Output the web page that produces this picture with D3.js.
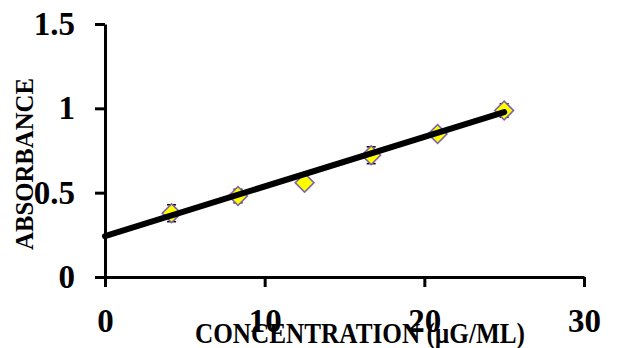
<!DOCTYPE html>
<html lang="en">
	<head>
		<meta charset="utf-8">
		<title>Absorbance vs concentration</title>
		<script type="text/javascript" src="https://cdn.jsdelivr.net/npm/d3@7"></script>
		<style type="text/css">
			body { margin: 0; background: #fff; }
			text { font-family: "Liberation Serif", "Times New Roman", serif; font-weight: bold; }
		</style>
	</head>
	<body>
		<script type="text/javascript">
			var w = 624;
			var h = 348;
			//data
			var concentration = [4.17, 8.33, 12.5, 16.67, 20.83, 25];
			var absorbance = [0.378, 0.48, 0.559, 0.722, 0.848, 0.987];
			var errors = [0.05, 0.04, 0.01, 0.05, 0.02, 0.04];
			var trendX = [0, 25];
			var trendY = [0.243, 0.978];
			var xTicks = [0, 10, 20, 30];
			var yTicks = [0, 0.5, 1, 1.5];

			var xScale = d3.scaleLinear().domain([0, 30]).range([105, 584]);
			var yScale = d3.scaleLinear().domain([0, 1.5]).range([277, 24]);

			var svg = d3.select("body")
						.append("svg")
						.attr("width", w)
						.attr("height", h);

			//axes
			svg.append("g")
				.attr("transform", "translate(0," + yScale(0) + ")")
				.call(d3.axisBottom(xScale).tickValues(xTicks)
					.tickFormat(d3.format("d"))
					.tickSize(10).tickSizeOuter(0).tickPadding(22));
			svg.append("g")
				.attr("transform", "translate(" + xScale(0) + ",0)")
				.call(d3.axisLeft(yScale).tickValues(yTicks)
					.tickFormat(function(d) { return d; })
					.tickSize(10).tickSizeOuter(0).tickPadding(20));
			svg.selectAll(".domain, .tick line")
				.attr("stroke", "black")
				.attr("stroke-width", 3);
			svg.selectAll(".tick text")
				.attr("font-size", "33px")
				.attr("font-family", "Liberation Serif")
				.attr("font-weight", "bold")
				.attr("fill", "black");

			//error bars
			var eb = svg.append("g").selectAll("g")
						.data(concentration)
						.enter()
						.append("g");
			eb.append("line")
				.attr("x1", function(d) { return xScale(d); })
				.attr("x2", function(d) { return xScale(d); })
				.attr("y1", function(d, i) { return yScale(absorbance[i] + errors[i]); })
				.attr("y2", function(d, i) { return yScale(absorbance[i] - errors[i]); })
				.attr("stroke", "black")
				.attr("stroke-width", 1.5);

			//points
			svg.append("g").selectAll("path")
				.data(concentration)
				.enter()
				.append("path")
				.attr("d", d3.symbol().type(d3.symbolSquare).size(175))
				.attr("transform", function(d, i) {
					return "translate(" + xScale(d) + "," + yScale(absorbance[i]) + ") rotate(45)";
				})
				.attr("fill", "#ffff00")
				.attr("stroke", "#7f63a8")
				.attr("stroke-width", 1.6);

			//caps
			[1, -1].forEach(function(s) {
				eb.append("line")
					.attr("x1", function(d) { return xScale(d) - 4.5; })
					.attr("x2", function(d) { return xScale(d) + 4.5; })
					.attr("y1", function(d, i) { return yScale(absorbance[i] + s * errors[i]); })
					.attr("y2", function(d, i) { return yScale(absorbance[i] + s * errors[i]); })
					.attr("stroke", "black")
					.attr("stroke-width", 1.5);
			});
			eb.raise();

			//trend line
			svg.append("path")
				.datum(trendX)
				.attr("d", d3.line()
					.x(function(d) { return xScale(d); })
					.y(function(d, i) { return yScale(trendY[i]); }))
				.attr("fill", "none")
				.attr("stroke", "black")
				.attr("stroke-width", 6)
				.attr("stroke-linecap", "round");

			//axis titles
			svg.append("text")
				.text("CONCENTRATION (µG/ML)")
				.attr("x", 195)
				.attr("y", 343)
				.attr("textLength", 330)
				.attr("lengthAdjust", "spacingAndGlyphs")
				.attr("font-size", "29px");
			svg.append("text")
				.text("ABSORBANCE")
				.attr("transform", "translate(33,164) rotate(-90)")
				.attr("text-anchor", "middle")
				.attr("font-size", "26px")
				.attr("textLength", 172)
				.attr("lengthAdjust", "spacingAndGlyphs");
		</script>
	</body>
</html>
